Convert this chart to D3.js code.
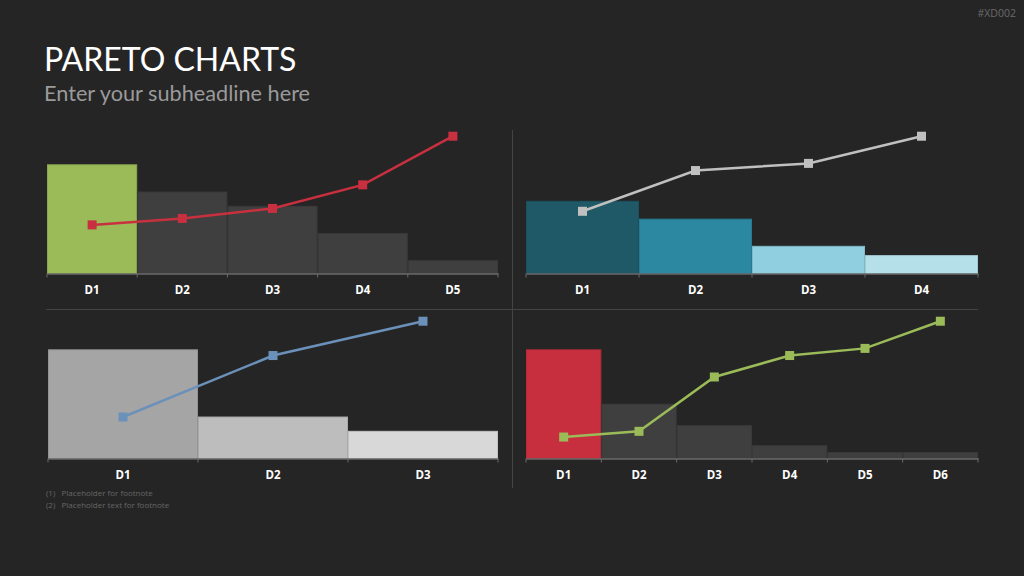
<!DOCTYPE html>
<html>
<head>
<meta charset="utf-8">
<script src="https://cdn.jsdelivr.net/npm/d3@7"></script>
<style>
  body { margin: 0; background: #252525; }
  svg { display: block; }
</style>
</head>
<body>
<svg id="chart" width="1024" height="576"></svg>
<script>
// chart data
const cats1 = ["D1", "D2", "D3", "D4", "D5"];
const bars1 = [76, 57, 47, 28, 9];
const line1 = [34, 38.5, 45.5, 62, 96];
const barColors1 = ["#9bbb59", "#3f3f3f", "#3f3f3f", "#3f3f3f", "#3f3f3f"];

const cats2 = ["D1", "D2", "D3", "D4"];
const bars2 = [50.5, 38, 19, 12.5];
const line2 = [43.5, 72, 77, 96];
const barColors2 = ["#1f5866", "#2b88a0", "#8fcfe0", "#b5e0ea"];

const cats3 = ["D1", "D2", "D3"];
const bars3 = [76, 29, 19];
const line3 = [29, 72, 96];
const barColors3 = ["#a5a5a5", "#bdbdbd", "#d8d8d8"];

const cats4 = ["D1", "D2", "D3", "D4", "D5", "D6"];
const bars4 = [76, 38, 23, 9, 4.2, 4.2];
const line4 = [15, 19, 57, 72, 77, 96];
const barColors4 = ["#c82f3e", "#3f3f3f", "#3f3f3f", "#3f3f3f", "#3f3f3f", "#3f3f3f"];

const svg = d3.select("#chart");

// headline
svg.append("text").attr("x", 44).attr("y", 71)
  .attr("font-family", "Lato").attr("font-size", 32).attr("fill", "#ffffff")
  .text("PARETO CHARTS");
svg.append("text").attr("x", 44).attr("y", 101)
  .attr("font-family", "Lato").attr("font-size", 21.7).attr("fill", "#9a9a9a")
  .text("Enter your subheadline here");
svg.append("text").attr("x", 1016).attr("y", 17).attr("text-anchor", "end")
  .attr("font-family", "Open Sans").attr("font-size", 10.5).attr("fill", "#6a6a6a")
  .text("#XD002");

// dividers
svg.append("line").attr("x1", 512.5).attr("x2", 512.5).attr("y1", 130).attr("y2", 488)
  .attr("stroke", "#444").attr("stroke-width", 1);
svg.append("line").attr("x1", 46).attr("x2", 978).attr("y1", 309.5).attr("y2", 309.5)
  .attr("stroke", "#444").attr("stroke-width", 1);

// footnotes
const notes = ["(1)   Placeholder for footnote", "(2)   Placeholder text for footnote"];
svg.selectAll("text.note").data(notes).enter().append("text")
  .attr("class", "note")
  .attr("x", 46).attr("y", (d, i) => 496 + i * 11.5)
  .attr("font-family", "Open Sans").attr("font-size", 8).attr("fill", "#666")
  .attr("xml:space", "preserve")
  .text(d => d);

function drawPareto(cats, bars, line, colors, lineColor, x0, x1, base, top) {
  const g = svg.append("g");

  const x = d3.scaleBand().domain(cats).range([x0, x1]).padding(0);
  const y = d3.scaleLinear().domain([0, 100]).range([base, top]);

  g.selectAll("rect.bar").data(bars).enter().append("rect")
    .attr("class", "bar")
    .attr("x", (d, i) => x(cats[i]) + 0.5)
    .attr("y", d => y(d))
    .attr("width", x.bandwidth() - 1)
    .attr("height", d => base - y(d))
    .attr("fill", (d, i) => colors[i])
    .attr("stroke", (d, i) => d3.color(colors[i]).darker(0.3))
    .attr("stroke-width", 1);

  // x axis
  const axis = g.append("g")
    .attr("transform", `translate(0,${base})`)
    .call(d3.axisBottom(x).tickSize(0).tickPadding(12));
  axis.select(".domain").attr("stroke", "#6a6a6a").attr("stroke-width", 1.5);
  axis.selectAll("text")
    .attr("font-family", "Open Sans").attr("font-size", 11.5)
    .attr("font-weight", "bold").attr("fill", "#ffffff");

  // tick marks at band edges
  const edges = cats.map(c => x(c)).concat([x1]);
  g.selectAll("line.edge").data(edges).enter().append("line")
    .attr("class", "edge")
    .attr("x1", d => d).attr("x2", d => d)
    .attr("y1", base).attr("y2", base + 4)
    .attr("stroke", "#6a6a6a").attr("stroke-width", 1);

  // cumulative line
  const lineGen = d3.line()
    .x((d, i) => x(cats[i]) + x.bandwidth() / 2)
    .y(d => y(d));
  g.append("path").datum(line)
    .attr("fill", "none").attr("stroke", lineColor).attr("stroke-width", 2.5)
    .attr("d", lineGen);

  g.selectAll("rect.pt").data(line).enter().append("rect")
    .attr("class", "pt")
    .attr("x", (d, i) => x(cats[i]) + x.bandwidth() / 2 - 4.5)
    .attr("y", d => y(d) - 4.5)
    .attr("width", 9).attr("height", 9)
    .attr("fill", lineColor);
}

drawPareto(cats1, bars1, line1, barColors1, "#c8303f", 47, 498, 273.5, 130.5);
drawPareto(cats2, bars2, line2, barColors2, "#c0c0c0", 526, 978, 273.5, 130.5);
drawPareto(cats3, bars3, line3, barColors3, "#6b91ba", 48, 498, 458.5, 315.5);
drawPareto(cats4, bars4, line4, barColors4, "#9bbb59", 526, 978, 458.5, 315.5);
</script>
</body>
</html>
